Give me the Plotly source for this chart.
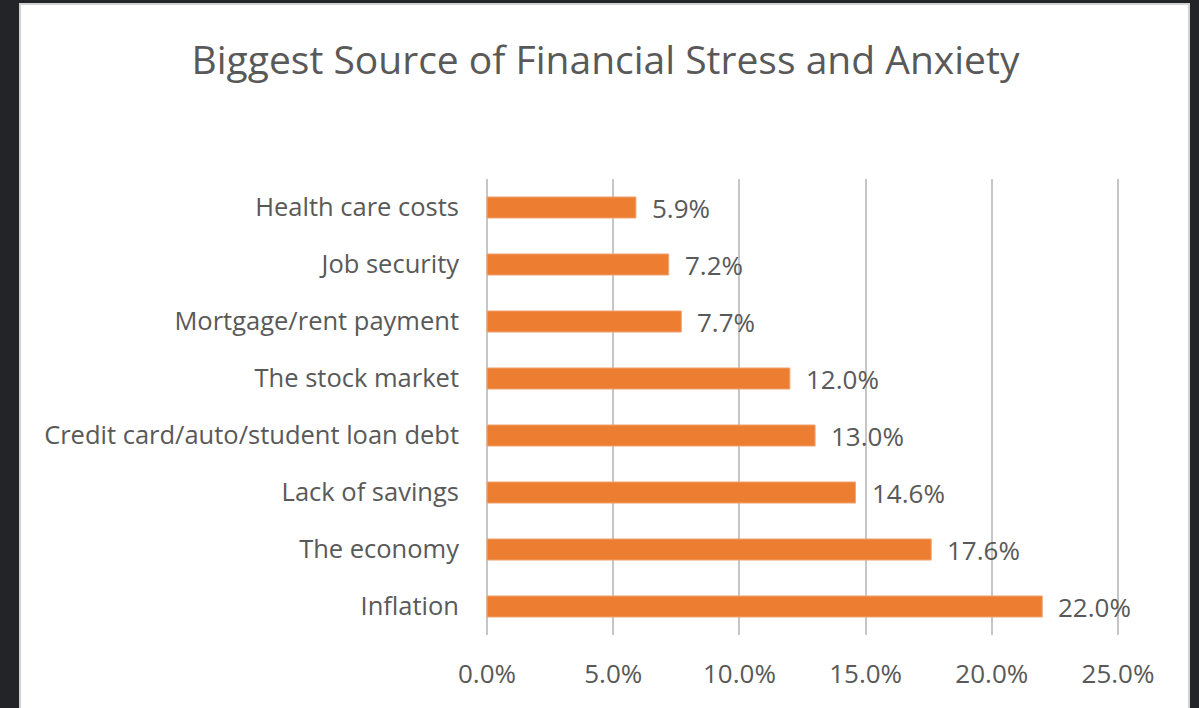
import plotly.graph_objects as go

# Survey results: share of respondents naming each item as their biggest source
# of financial stress, listed bottom-to-top as drawn on the y axis.
categories = [
    "Inflation",
    "The economy",
    "Lack of savings",
    "Credit card/auto/student loan debt",
    "The stock market",
    "Mortgage/rent payment",
    "Job security",
    "Health care costs",
]
shares = [22.0, 17.6, 14.6, 13.0, 12.0, 7.7, 7.2, 5.9]
tick_values = [0, 5, 10, 15, 20, 25]
tick_labels = ["0.0%", "5.0%", "10.0%", "15.0%", "20.0%", "25.0%"]
title_text = "Biggest Source of Financial Stress and Anxiety"

W, H = 1199, 708
ML, MR, MT, MB = 486, 80, 179, 73
PW, PH = W - ML - MR, H - MT - MB

FONT = "Open Sans, Noto Sans, sans-serif"
TEXT = "#595959"
BAR = "#ED7D31"
GRID = "#c6c6c6"
DARK = "#232427"


def px_x(p):
    return (p - ML) / PW


def px_y(p):
    return 1 - (p - MT) / PH


fig = go.Figure(
    go.Bar(
        x=shares,
        y=categories,
        orientation="h",
        marker=dict(color=BAR, line=dict(color="#f0a878", width=1)),
        width=0.37,
        hoverinfo="skip",
    )
)

# Value labels beside each bar
for cat, val in zip(categories, shares):
    fig.add_annotation(
        x=val, y=cat, xref="x", yref="y",
        text=f"{val:.1f}%", showarrow=False,
        xanchor="left", xshift=14,
        font=dict(family=FONT, size=26, color=TEXT),
    )

# Dark frame around the white chart card
shapes = [
    dict(type="rect", xref="paper", yref="paper", layer="below",
         x0=px_x(0), x1=px_x(W), y0=px_y(0), y1=px_y(H),
         fillcolor=DARK, line=dict(width=0)),
    dict(type="rect", xref="paper", yref="paper", layer="below",
         x0=px_x(19), x1=px_x(1190), y0=px_y(3), y1=px_y(H + 5),
         fillcolor="#d2d2d2", line=dict(width=0)),
    dict(type="rect", xref="paper", yref="paper", layer="below",
         x0=px_x(21), x1=px_x(1188), y0=px_y(5), y1=px_y(H + 5),
         fillcolor="white", line=dict(width=0)),
]

fig.update_layout(
    width=W, height=H,
    margin=dict(l=ML, r=MR, t=MT, b=MB, pad=0),
    paper_bgcolor=DARK,
    plot_bgcolor="rgba(0,0,0,0)",
    showlegend=False,
    shapes=shapes,
    title=dict(
        text=title_text, x=0.505, xanchor="center", y=1 - 60 / H, yanchor="middle",
        font=dict(family=FONT, size=39, color=TEXT),
    ),
    xaxis=dict(
        range=[-0.04, 25.04],
        tickvals=tick_values, ticktext=tick_labels,
        showgrid=True, gridcolor=GRID, gridwidth=2,
        zeroline=True, zerolinecolor=GRID, zerolinewidth=2,
        showline=False, ticks="",
        tickfont=dict(family=FONT, size=26, color=TEXT),
        ticklabelstandoff=21,
        fixedrange=True,
    ),
    yaxis=dict(
        categoryorder="array", categoryarray=categories,
        range=[-0.5, len(categories) - 0.5],
        showgrid=False, zeroline=False, showline=False, ticks="",
        tickfont=dict(family=FONT, size=25.5, color=TEXT),
        ticklabelstandoff=26,
        fixedrange=True,
    ),
)

fig.write_html("out.html", config={"displayModeBar": False})
